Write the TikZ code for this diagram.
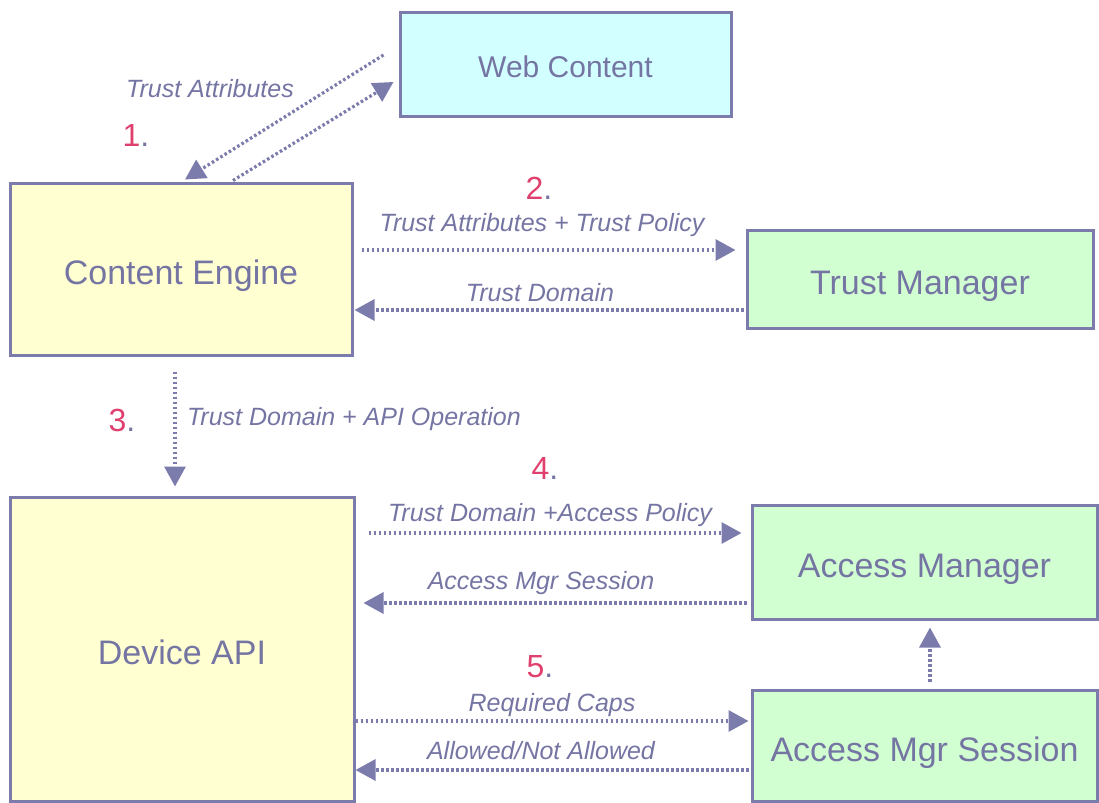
\documentclass[tikz,border=0pt]{standalone}
\usepackage{fontspec}
\setmainfont{Liberation Sans}
\usetikzlibrary{arrows.meta, positioning}
\definecolor{Slate}{HTML}{7B7BAC}
\definecolor{SlateText}{HTML}{7575A3}
\definecolor{PaleYellow}{HTML}{FFFFD2}
\definecolor{PaleCyan}{HTML}{D2FFFF}
\definecolor{PaleGreen}{HTML}{D2FFD2}
\definecolor{StepRed}{HTML}{E0406E}

\begin{document}
\begin{tikzpicture}[
    x=0.5pt, y=-0.5pt,
    every node/.style={text=SlateText},
    box/.style={rectangle, draw=Slate, line width=1.5pt, align=center, inner sep=0pt, text height=19pt, text depth=3.5pt, font=\fontsize{17}{20}\selectfont},
    msg/.style={font=\fontsize{12.5}{15}\selectfont\itshape},
    num/.style={font=\fontsize{16}{19}\selectfont},
    arrow/.style={-{Triangle[length=10pt, width=10.5pt]}, draw=Slate, line width=1.6pt, dash pattern=on 1.3pt off 1.2pt}
]
\useasboundingbox (0,0) rectangle (1099,803);

% Components
\node[box, fill=PaleCyan, minimum width=165.5pt, minimum height=52pt, text height=17pt, font=\fontsize{15}{18}\selectfont] (web) at (565.5,64) {Web Content};
\node[box, fill=PaleYellow, minimum width=171pt, minimum height=86pt] (engine) at (181,269) {Content Engine};
\node[box, fill=PaleGreen, minimum width=173pt, minimum height=49pt] (trust) at (920,279) {Trust Manager};
\node[box, fill=PaleYellow, minimum width=172pt, minimum height=152pt] (device) at (182,649) {Device API};
\node[box, fill=PaleGreen, minimum width=172.5pt, minimum height=57pt] (access) at (924.5,562) {Access Manager};
\node[box, fill=PaleGreen, minimum width=172.5pt, minimum height=55.5pt] (session) at (924.5,745.5) {Access Mgr Session};

% Step 1
\draw[arrow] ([xshift=-7.5pt, yshift=4.5pt]web.west) -- ([xshift=2pt, yshift=1pt]engine.north);
\draw[arrow] ([xshift=26pt, yshift=0.5pt]engine.north) -- ([xshift=-2.5pt, yshift=-9pt]web.west);
\node[msg] (m1) at (210,89) {Trust Attributes};
\node[num] (n1) at (136,135) {\textcolor{StepRed}{1}.};

% Step 2
\draw[arrow, shorten <=4pt, shorten >=5pt] ([yshift=9.5pt]engine.east) -- ([yshift=9.5pt]engine.east -| trust.west);
\draw[arrow, shorten <=1pt, shorten >=0.5pt] ([yshift=-15.5pt]trust.west) -- ([yshift=-15.5pt]trust.west -| engine.east);
\node[num] (n2) at (539,188) {\textcolor{StepRed}{2}.};
\node[msg] (m2a) at (542,225) {Trust Attributes + Trust Policy};
\node[msg] (m2b) at (540,293) {Trust Domain};

% Step 3
\draw[arrow, shorten <=7.5pt, shorten >=4.5pt] ([xshift=-3pt]engine.south) -- ([xshift=-3pt]engine.south |- device.north);
\node[num] (n3) at (122,420) {\textcolor{StepRed}{3}.};
\node[msg, anchor=west] (m3) at (180,419) {Trust Domain + API Operation};

% Step 4
\draw[arrow, shorten <=6.5pt, shorten >=4.5pt] ([yshift=58pt]device.east) -- ([yshift=58pt]device.east -| access.west);
\draw[arrow, shorten <=2pt, shorten >=4pt] ([yshift=-20.5pt]access.west) -- ([yshift=-20.5pt]access.west -| device.east);
\node[num] (n4) at (545,468) {\textcolor{StepRed}{4}.};
\node[msg] (m4a) at (550,515) {Trust Domain +Access Policy};
\node[msg] (m4b) at (541,583) {Access Mgr Session};

% Step 5
\draw[arrow, shorten >=1pt] ([yshift=12.25pt]session.west -| device.east) -- ([yshift=12.25pt]session.west);
\draw[arrow, shorten <=1pt] ([yshift=-12.25pt]session.west) -- ([yshift=-12.25pt]session.west -| device.east);
\draw[arrow, shorten <=3.5pt, shorten >=3.5pt] ([xshift=2.75pt]session.north) -- ([xshift=2.75pt]session.north |- access.south);
\node[num] (n5) at (540,667) {\textcolor{StepRed}{5}.};
\node[msg] (m5a) at (552,705) {Required Caps};
\node[msg] (m5b) at (541,751) {Allowed/Not Allowed};

\end{tikzpicture}
\end{document}
